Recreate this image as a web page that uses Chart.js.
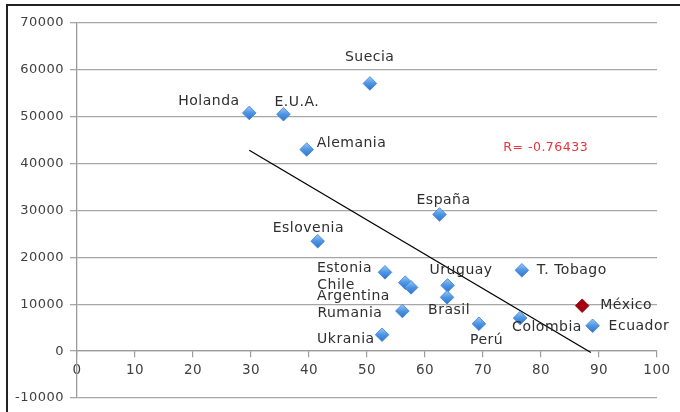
<!DOCTYPE html>
<html>
<head>
<meta charset="utf-8">
<script src="https://cdn.jsdelivr.net/npm/chart.js@4.4.0/dist/chart.umd.min.js"></script>
<style>
  body { margin: 0; background: #fff; }
  #wrap { position: relative; width: 680px; height: 412px; }
  #frame { position: absolute; left: 6px; top: 4px; right: -4px; bottom: -4px;
           border-top: 2px solid #222; border-left: 2px solid #222; }
  canvas { position: absolute; left: 0; top: 0; }
</style>
</head>
<body>
<div id="wrap">
  <div id="frame"></div>
  <canvas id="myChart" width="680" height="412"></canvas>
</div>
<script>
// ---------------------- data ---------------------
var countries = ["Holanda", "E.U.A.", "Alemania", "Suecia", "España", "Eslovenia",
  "Estonia", "Chile", "Argentina", "Rumania", "Ukrania", "Uruguay", "Brasil",
  "Perú", "Colombia", "T. Tobago", "México", "Ecuador"];
var xValues = [29.7, 35.6, 39.6, 50.5, 62.5, 41.5,
  53.1, 56.6, 57.6, 56.1, 52.6, 63.9, 63.8,
  69.3, 76.4, 76.7, 87.1, 88.9];
var yValues = [50820, 50540, 43000, 57100, 29150, 23440,
  16810, 14610, 13600, 8560, 3490, 14030, 11470,
  5840, 7060, 17240, 9690, 5410];
var trendX = [29.7, 88.6];
var trendY = [42840, -300];
var rText = "R= -0.76433";
var rPos = [73.5, 43480];
var highlight = "México";

// label placement next to each marker: [dx, dy]
var labelOffsets = {
  "Holanda": [-71, -12], "E.U.A.": [-9, -12], "Alemania": [10, -6],
  "Suecia": [-25, -26], "España": [-23, -14], "Eslovenia": [-45, -13],
  "Estonia": [-68, -4], "Chile": [-88, 3], "Argentina": [-94, 9],
  "Rumania": [-85, 2], "Ukrania": [-65, 5], "Uruguay": [-18, -15],
  "Brasil": [-19, 13], "Perú": [-9, 17], "Colombia": [-8, 9],
  "T. Tobago": [15, 0], "México": [18, 0], "Ecuador": [16, 1]
};

var points = xValues.map(function (x, i) { return {x: x, y: yValues[i]}; });
var trend = trendX.map(function (x, i) { return {x: x, y: trendY[i]}; });

function markerFill(ctx, name) {
  var el = ctx.element;
  if (name === highlight) return "#a8000f";
  if (!el || el.y === undefined) return "#4a90e2";
  var g = ctx.chart.ctx.createLinearGradient(0, el.y - 7, 0, el.y + 7);
  g.addColorStop(0, "#9dcaf6");
  g.addColorStop(0.5, "#4d95e4");
  g.addColorStop(1, "#2f73c9");
  return g;
}

var labelPlugin = {
  id: "labels",
  beforeDraw: function (chart) { chart.ctx.letterSpacing = "0.5px"; },
  afterDatasetsDraw: function (chart) {
    var ctx = chart.ctx;
    var xs = chart.scales.x, ys = chart.scales.y;
    ctx.save();
    ctx.letterSpacing = "0.5px";
    ctx.font = "14px 'DejaVu Sans'";
    ctx.fillStyle = "#2e2e2e";
    ctx.textAlign = "left";
    ctx.textBaseline = "middle";
    countries.forEach(function (name, i) {
      var off = labelOffsets[name];
      ctx.fillText(name, xs.getPixelForValue(xValues[i]) + off[0], ys.getPixelForValue(yValues[i]) + off[1]);
    });
    ctx.font = "12.5px 'DejaVu Sans'";
    ctx.fillStyle = "#e8333a";
    ctx.fillText(rText, xs.getPixelForValue(rPos[0]), ys.getPixelForValue(rPos[1]));
    ctx.restore();
  }
};

new Chart("myChart", {
  type: "scatter",
  data: {
    datasets: [{
      data: points,
      pointStyle: "rectRot",
      pointRadius: 6.8,
      pointHoverRadius: 6.8,
      pointBorderWidth: 0.8,
      pointBorderColor: function (c) { return countries[c.dataIndex] === highlight ? "#7a0008" : "#3b7fcf"; },
      pointBackgroundColor: function (c) { return markerFill(c, countries[c.dataIndex]); },
      order: 1
    }, {
      type: "line",
      data: trend,
      borderColor: "#000",
      borderWidth: 1.3,
      pointRadius: 0,
      fill: false,
      order: 2
    }]
  },
  options: {
    responsive: false,
    animation: false,
    layout: { padding: { left: 0, top: 23, right: 23, bottom: 14 } },
    plugins: { legend: { display: false }, tooltip: { enabled: false } },
    scales: {
      x: {
        type: "linear",
        position: { y: 0 },
        min: 0, max: 100,
        ticks: { stepSize: 10, color: "#404040", font: { family: "DejaVu Sans", size: 13.5 }, padding: 5,
                 callback: function (v) { return String(v); } },
        grid: { drawOnChartArea: false, drawTicks: true, tickLength: 6, color: "#9a9a9a", lineWidth: 1.2 },
        border: { color: "#9a9a9a", width: 1.3 },
        afterFit: function (s) { s.height = 0; }
      },
      y: {
        min: -10000, max: 70000,
        ticks: { stepSize: 10000, color: "#404040", font: { family: "DejaVu Sans", size: 13 }, padding: 6,
                 callback: function (v) { return String(v); } },
        grid: { color: "#a6a6a6", lineWidth: 1.3, tickLength: 7 },
        border: { color: "#9a9a9a", width: 1.3 },
        afterFit: function (s) { s.width = 77; }
      }
    }
  },
  plugins: [labelPlugin]
});
</script>
</body>
</html>
